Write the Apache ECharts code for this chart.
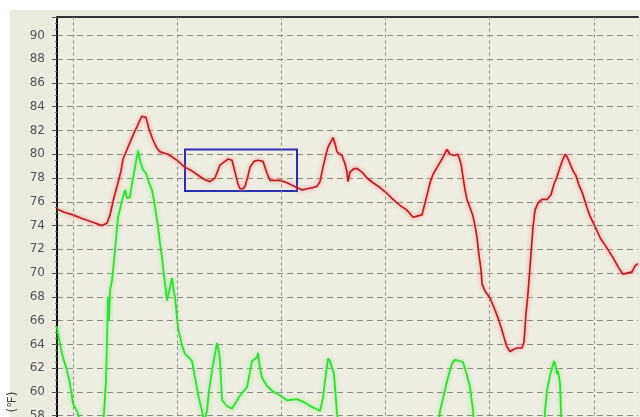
<!DOCTYPE html>
<html>
<head>
<meta charset="utf-8">
<script src="https://cdn.jsdelivr.net/npm/echarts@6/dist/echarts.min.js"></script>
<style>
html,body{margin:0;padding:0;background:#fff;}
#c{width:640px;height:417px;}
</style>
</head>
<body>
<div id="c"></div>
<script>
// time (samples) and temperature (°F)
var redT = [0,8,16,25,35,45,50,53,56,58,61,64,66,70,73,77,80,83,85,89,92,96,100,103,111,120,128,135,140,147,153,158,163,168,171,175,178,181,183,186,188,191,193,197,201,206,210,213,218,223,230,235,240,245,250,256,260,263,266,269,271,276,278,280,285,288,290,291,293,297,300,305,310,316,323,330,336,343,350,356,360,365,368,371,373,376,380,385,390,393,397,401,404,406,408,410,413,416,418,420,422,424,425,428,433,438,442,445,448,450,453,457,460,465,467,469,471,473,476,478,481,485,490,494,497,500,503,506,508,510,513,516,519,522,526,530,533,537,543,550,556,562,566,570,575,578,581];
var redV = [75.4,75.1,74.9,74.6,74.3,74.0,74.2,74.9,76.0,76.7,77.6,78.6,79.6,80.4,81.0,81.8,82.3,82.9,83.2,83.1,82.1,81.2,80.5,80.2,80.0,79.5,78.9,78.6,78.3,77.9,77.7,78.0,79.1,79.4,79.6,79.5,78.5,77.5,77.1,77.1,77.3,78.2,78.9,79.4,79.5,79.4,78.4,77.8,77.8,77.8,77.6,77.4,77.2,77.0,77.1,77.2,77.3,77.7,78.9,80.0,80.6,81.4,80.9,80.2,79.9,79.2,78.5,77.7,78.5,78.8,78.8,78.5,78.0,77.6,77.2,76.7,76.2,75.7,75.3,74.7,74.8,74.9,75.9,76.9,77.6,78.3,78.9,79.6,80.4,80.0,79.9,80.0,79.2,78.1,77.0,76.2,75.5,74.8,74.0,73.0,71.5,70.3,69.1,68.5,67.9,66.9,66.0,65.2,64.3,63.8,63.4,63.6,63.7,63.7,64.2,66.6,68.3,70.5,73.9,75.3,75.9,76.2,76.2,76.6,77.5,78.1,78.9,79.6,80.0,79.8,79.2,78.6,78.2,77.4,76.6,75.5,74.8,74.1,73.0,72.1,71.3,70.4,69.9,70.0,70.1,70.6,70.8];

var greenT = [0,1,5,10,13,16,20,23,26,30,40,44,46,47,49,50,51,52,53,55,56,58,61,65,68,70,73,75,78,81,83,86,89,92,95,98,101,103,105,108,110,113,115,117,118,121,125,128,132,135,139,141,145,147,149,150,152,155,158,160,162,163,165,170,175,178,183,190,195,200,201,203,205,210,215,223,230,240,248,256,263,266,268,271,273,275,277,278,280,282,290,380,381,383,387,390,393,395,398,403,406,408,410,413,416,418,425,485,487,488,490,493,495,497,498,500,501,503,504,505,510,581];
var greenV = [65.5,64.9,63.2,61.8,60.7,59.0,58.4,57.6,56.5,55.5,55.0,56.0,57.5,58.2,61.0,64.3,68.0,66.0,68.5,69.4,70.2,71.9,74.7,76.1,77.0,76.3,76.4,77.5,78.9,80.3,79.5,78.7,78.4,77.6,77.0,75.6,73.9,72.5,71.3,69.1,67.7,68.8,69.6,68.4,68.0,65.4,63.9,63.2,62.9,62.6,60.8,59.8,58.4,57.5,57.6,58.4,60.1,61.8,63.2,64.1,63.4,62.6,59.3,58.8,58.6,59.0,59.7,60.4,62.6,62.9,63.3,62.0,61.2,60.5,60.1,59.7,59.3,59.4,59.1,58.7,58.4,59.5,60.9,62.8,62.6,62.5,61.5,60.4,58.2,57.0,55.0,55.0,57.0,58.4,59.8,60.9,61.8,62.4,62.7,62.6,62.5,62.4,61.4,60.4,58.4,56.0,55.0,55.0,56.5,58.4,60.1,61.4,62.0,62.6,62.4,61.5,61.8,60.7,58.4,56.0,55.0,55.0];

var yMin = 56, yMax = 91.55, yStep = 2;
var tMin = 0, tMax = 581;
var vGuides = [16, 120, 224, 328, 432, 537];
var boxT = [128, 240];
var boxV = [80.4, 76.9];
var unitLabel = '(\u2109)';

function pairs(t, v) { return t.map(function (x, i) { return [x, v[i]]; }); }

var chart = echarts.init(document.getElementById('c'), null, {renderer: 'canvas'});
chart.setOption({
  animation: false,
  backgroundColor: '#ffffff',
  graphic: [
    {type: 'rect', left: 10, top: 10, shape: {width: 630, height: 407}, style: {fill: '#ecebdf'}, z: -10, silent: true},
    {type: 'text', x: 13, y: 402, rotation: Math.PI / 2, style: {text: unitLabel, fill: '#444', font: '12px "DejaVu Sans"', align: 'center', verticalAlign: 'middle'}, z: 10}
  ],
  grid: {left: 57, right: 2, top: 17, bottom: -22.5, show: true, backgroundColor: '#eeede2', borderWidth: 0, containLabel: false, outerBoundsMode: 'none'},
  xAxis: [
    {type: 'value', min: tMin, max: tMax, show: true, axisLine: {show: false}, axisTick: {show: false}, axisLabel: {show: false}, splitLine: {show: false}},
    {type: 'value', position: 'top', min: tMin, max: tMax, axisLine: {show: true, lineStyle: {color: '#333', width: 2}}, axisTick: {show: false}, axisLabel: {show: false}, splitLine: {show: false}}
  ],
  yAxis: {
    type: 'value', min: yMin, max: yMax, interval: yStep,
    axisLine: {show: true, onZero: false, lineStyle: {color: '#111', width: 2}},
    axisTick: {show: true, length: 5, lineStyle: {color: '#555'}},
    minorTick: {show: true, splitNumber: 4, length: 2, lineStyle: {color: '#777'}},
    axisLabel: {show: true, margin: 12, color: '#555', fontSize: 12, fontFamily: 'DejaVu Sans', showMaxLabel: false, showMinLabel: false},
    splitLine: {show: true, lineStyle: {color: '#8d8c86', width: 1, type: [6, 4]}}
  },
  series: [
    {
      type: 'line', data: [], z: 1, silent: true,
      markLine: {
        silent: true, symbol: ['none', 'none'], label: {show: false}, animation: false,
        lineStyle: {color: '#8d8c86', width: 1, type: [3, 3]},
        data: vGuides.map(function (x) { return {xAxis: x}; })
      }
    },
    {
      name: 'green', type: 'line', showSymbol: false, z: 3,
      data: pairs(greenT, greenV),
      lineStyle: {color: '#30e030', width: 1.8, shadowColor: 'rgba(120,240,120,0.9)', shadowBlur: 4}
    },
    {
      name: 'red', type: 'line', showSymbol: false, z: 4,
      data: pairs(redT, redV),
      lineStyle: {color: '#c01c20', width: 1.7, shadowColor: 'rgba(255,120,120,0.9)', shadowBlur: 4}
    },
    {
      type: 'line', data: [], z: 5, silent: true,
      markArea: {
        silent: true,
        itemStyle: {color: 'rgba(0,0,0,0)', borderColor: '#2a2fb0', borderWidth: 2},
        data: [[{coord: [boxT[0], boxV[0]]}, {coord: [boxT[1], boxV[1]]}]]
      }
    }
  ]
});
</script>
</body>
</html>
